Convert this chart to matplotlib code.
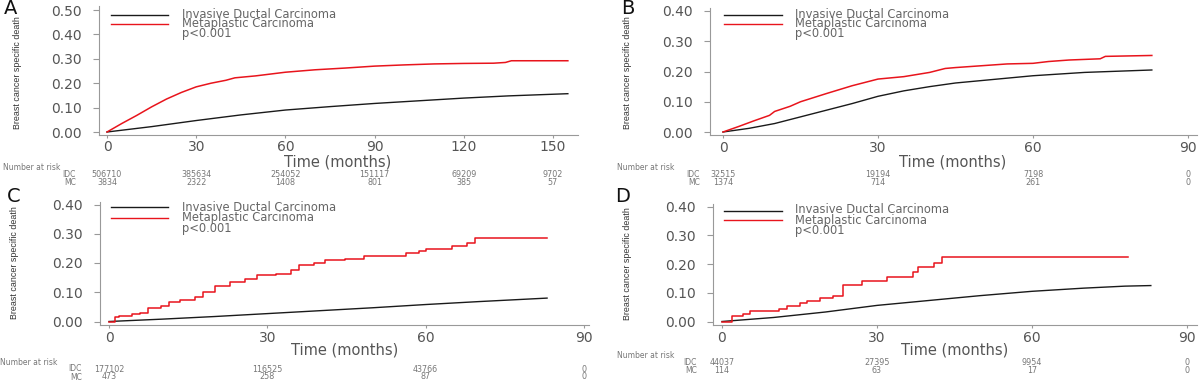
import matplotlib
matplotlib.use("Agg")
import matplotlib.pyplot as plt
import matplotlib.transforms as mtransforms

plt.rcParams['font.family'] = ['DejaVu Sans']

W, H = 1200, 381

# ---- data ----
# Panel A
A_t_idc = [0, 15, 30, 45, 60, 75, 90, 105, 120, 135, 155]
A_idc = [0, 0.022, 0.047, 0.07, 0.09, 0.104, 0.117, 0.128, 0.139, 0.148, 0.157]
A_t_mc = [0, 5, 10, 15, 20, 25, 30, 35, 40, 43, 50, 60, 70, 80, 90, 100, 110, 120, 130, 134, 136, 155]
A_mc = [0, 0.035, 0.068, 0.103, 0.135, 0.162, 0.185, 0.200, 0.212, 0.222, 0.230, 0.245, 0.255,
        0.262, 0.270, 0.275, 0.279, 0.281, 0.282, 0.285, 0.292, 0.292]
A_ticks = [0, 30, 60, 90, 120, 150]
A_risk_idc = [506710, 385634, 254052, 151117, 69209, 9702]
A_risk_mc = [3834, 2322, 1408, 801, 385, 57]

# Panel B
B_t_idc = [0, 5, 10, 15, 20, 25, 30, 35, 40, 45, 50, 55, 60, 70, 83]
B_idc = [0, 0.012, 0.028, 0.05, 0.072, 0.094, 0.118, 0.136, 0.15, 0.162, 0.17, 0.178, 0.186, 0.197, 0.205]
B_t_mc = [0, 3, 6, 9, 10, 13, 15, 20, 25, 30, 35, 40, 43, 45, 50, 55, 60, 63, 67, 70, 73, 74, 83]
B_mc = [0, 0.018, 0.037, 0.055, 0.068, 0.085, 0.1, 0.127, 0.153, 0.175, 0.183, 0.197, 0.21, 0.213,
        0.219, 0.225, 0.227, 0.233, 0.238, 0.24, 0.242, 0.25, 0.253]
B_ticks = [0, 30, 60, 90]
B_risk_idc = [32515, 19194, 7198, 0]
B_risk_mc = [1374, 714, 261, 0]

# Panel C
C_t_idc = [0, 10, 20, 30, 40, 50, 60, 70, 83]
C_idc = [0, 0.008, 0.017, 0.027, 0.037, 0.047, 0.058, 0.068, 0.080]
C_t_mc = [0, 1.1, 1.8, 4.4, 5.8, 7.3, 9.8, 11.3, 13.4, 16.3, 17.8, 20, 22.9, 25.8, 28, 31.6, 34.5,
          36, 38.9, 41, 44.7, 48.3, 56.3, 58.8, 60, 65, 67.9, 69.4, 83]
C_mc = [0, 0.014, 0.02, 0.025, 0.03, 0.045, 0.052, 0.068, 0.075, 0.085, 0.10, 0.123, 0.134, 0.147,
        0.16, 0.164, 0.177, 0.193, 0.201, 0.21, 0.215, 0.224, 0.235, 0.242, 0.248, 0.259, 0.27, 0.284, 0.284]
C_ticks = [0, 30, 60, 90]
C_risk_idc = [177102, 116525, 43766, 0]
C_risk_mc = [473, 258, 87, 0]

# Panel D
D_t_idc = [0, 10, 20, 30, 40, 50, 60, 70, 78, 83]
D_idc = [0, 0.014, 0.033, 0.056, 0.073, 0.09, 0.105, 0.116, 0.123, 0.125]
D_t_mc = [0, 2, 4, 5.5, 11, 12.5, 15, 16.5, 19, 21.5, 23.5, 27, 32, 37, 38, 41, 42.5, 78.5]
D_mc = [0, 0.018, 0.027, 0.036, 0.045, 0.054, 0.063, 0.072, 0.081, 0.09, 0.126, 0.14, 0.156,
        0.172, 0.19, 0.205, 0.225, 0.225]
D_ticks = [0, 30, 60, 90]
D_risk_idc = [44037, 27395, 9954, 0]
D_risk_mc = [114, 63, 17, 0]

RED = '#e8141c'
BLACK = '#1a1a1a'
GREY = '#555555'
RISK_GREY = '#777777'

fig = plt.figure(figsize=(W / 100, H / 100), dpi=100)


def fx(px):
    return px / W


def fy(py):
    return 1 - py / H


def place(ax, xmap, ymap, xlim, ylim):
    # xmap/ymap: (pixel, value, pixel, value) for two ticks
    px0, v0, px1, v1 = xmap
    kx = (px1 - px0) / (v1 - v0)
    left = px0 + (xlim[0] - v0) * kx
    right = px0 + (xlim[1] - v0) * kx
    py0, w0, py1, w1 = ymap
    ky = (py1 - py0) / (w1 - w0)
    bottom = py0 + (ylim[0] - w0) * ky
    top = py0 + (ylim[1] - w0) * ky
    ax.set_position([fx(left), fy(bottom), (right - left) / W, (bottom - top) / H])
    ax.set_xlim(*xlim)
    ax.set_ylim(*ylim)


def panel(letter, xmap, ymap, xlim, ylim, yticks, xticks,
          t_idc, idc, t_mc, mc, step, risk_idc, risk_mc, lay):
    ax = fig.add_axes([0, 0, 1, 1])
    place(ax, xmap, ymap, xlim, ylim)
    ax.plot(t_idc, idc, color=BLACK, lw=1.0)
    ax.plot(t_mc, mc, color=RED, lw=1.1, drawstyle='steps-post' if step else 'default')
    for s in ['top', 'right']:
        ax.spines[s].set_visible(False)
    for s in ['left', 'bottom']:
        ax.spines[s].set_color('#999999')
        ax.spines[s].set_linewidth(0.8)
    ax.set_yticks(yticks)
    ax.set_yticklabels(['%.2f' % v for v in yticks])
    ax.set_xticks(xticks)
    ax.tick_params(axis='y', length=4.5, pad=8, color='#999999', labelsize=10, labelcolor=GREY)
    ax.tick_params(axis='x', length=2, pad=2, color='#999999', labelsize=10, labelcolor=GREY)

    # panel letter, labels
    lx, ly = lay['letter']
    fig.text(fx(lx), fy(ly), letter, fontsize=14, ha='center', va='center', color='#111111')
    yx, yy = lay['ylabel']
    fig.text(fx(yx), fy(yy), 'Breast cancer specific death', rotation=90, ha='center', va='center',
             fontsize=6.4, family='Liberation Sans', color='#333333')
    tx, ty = lay['xlabel']
    fig.text(fx(tx), fy(ty), 'Time (months)', ha='center', va='center', fontsize=10.5, color=GREY)

    # legend: two line samples and one text block
    lx0, lx1, ltx = lay['legend_x']
    rows = lay['legend_y']
    fig.add_artist(plt.Line2D([fx(lx0), fx(lx1)], [fy(rows[0])] * 2, color=BLACK, lw=1.0))
    fig.add_artist(plt.Line2D([fx(lx0), fx(lx1)], [fy(rows[1])] * 2, color=RED, lw=1.0))
    fig.text(fx(ltx), fy(rows[1]), 'Invasive Ductal Carcinoma\nMetaplastic Carcinoma\np<0.001',
             ha='left', va='center', fontsize=8.3, color='#666666', linespacing=lay['legend_ls'])

    # number at risk
    nx, ny, rlab, ry1, ry2 = lay['risk']
    ymid = (ry1 + ry2) / 2
    fig.text(fx(nx), fy(ny), 'Number at risk', ha='left', va='center', fontsize=5.5, color=RISK_GREY)
    fig.text(fx(rlab), fy(ymid), 'IDC\nMC', ha='right', va='center', multialignment='right',
             fontsize=5.5, color=RISK_GREY, linespacing=0.88)
    trans = mtransforms.blended_transform_factory(ax.transData, fig.transFigure)
    for t, a, b in zip(xticks, risk_idc, risk_mc):
        ax.text(t, fy(ymid), '%d\n%d' % (a, b), transform=trans, ha='center', va='center',
                multialignment='center', fontsize=5.8, color=RISK_GREY, linespacing=0.84,
                clip_on=False)
    return ax


panel('A', (107, 0, 553, 150), (132, 0, 10, 0.5), (-2.7, 158.4), (-0.012, 0.515),
      [0, 0.1, 0.2, 0.3, 0.4, 0.5], A_ticks, A_t_idc, A_idc, A_t_mc, A_mc, False,
      A_risk_idc, A_risk_mc,
      dict(letter=(11, 8), ylabel=(18, 73), xlabel=(338, 162),
           legend_x=(111, 168, 182), legend_y=(15, 24, 33), legend_ls=0.7,
           risk=(3, 167, 76, 175, 182)))

panel('B', (723, 0, 1188, 90), (132, 0, 11, 0.4), (-2.5, 91.7), (-0.01, 0.41),
      [0, 0.1, 0.2, 0.3, 0.4], B_ticks, B_t_idc, B_idc, B_t_mc, B_mc, False,
      B_risk_idc, B_risk_mc,
      dict(letter=(628, 8), ylabel=(628, 73), xlabel=(953, 162),
           legend_x=(724, 782, 795), legend_y=(15, 24, 33), legend_ls=0.7,
           risk=(617, 167, 700, 175, 182)))

panel('C', (109, 0, 584, 90), (321.5, 0, 204.5, 0.4), (-1.7, 90.9), (-0.012, 0.41),
      [0, 0.1, 0.2, 0.3, 0.4], C_ticks, C_t_idc, C_idc, C_t_mc, C_mc, True,
      C_risk_idc, C_risk_mc,
      dict(letter=(14, 196), ylabel=(15, 263), xlabel=(345, 350),
           legend_x=(111, 168, 182), legend_y=(207.5, 218, 227.5), legend_ls=0.77,
           risk=(0, 362.5, 82, 369.5, 376.5)))

panel('D', (722, 0, 1187, 90), (321.5, 0, 206.5, 0.4), (-1.7, 91.9), (-0.012, 0.41),
      [0, 0.1, 0.2, 0.3, 0.4], D_ticks, D_t_idc, D_idc, D_t_mc, D_mc, True,
      D_risk_idc, D_risk_mc,
      dict(letter=(623, 197), ylabel=(627, 264), xlabel=(955, 350),
           legend_x=(724, 782, 795), legend_y=(210.7, 220, 229.5), legend_ls=0.75,
           risk=(617, 355, 697, 363, 370.5)))

fig.savefig('out.png', dpi=100)
